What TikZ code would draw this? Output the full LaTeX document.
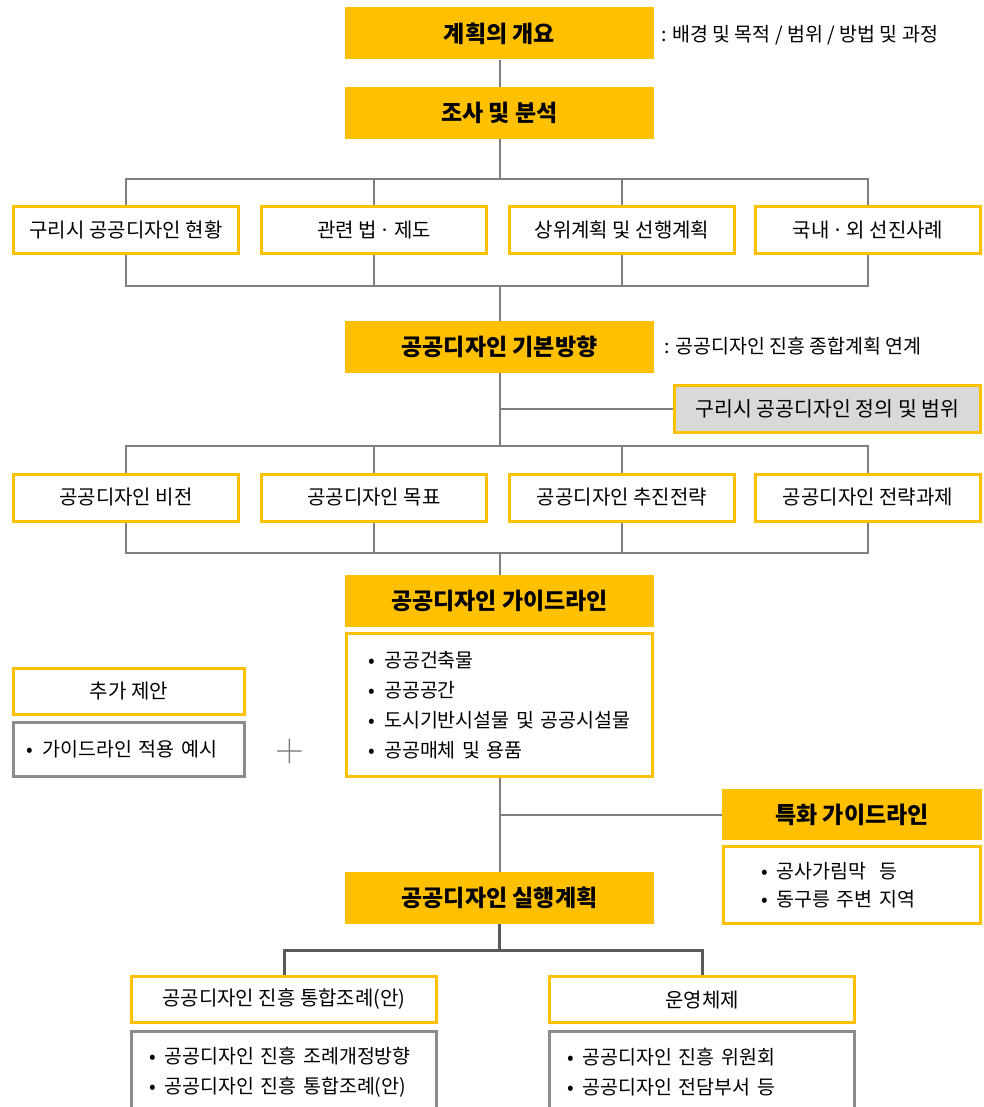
\documentclass[tikz,border=0pt]{standalone}
\usepackage{fontspec}
\setmainfont{Noto Sans CJK KR}
\newfontfamily\lmfont{Latin Modern Roman}
\definecolor{guriyellow}{HTML}{FFC000}
\definecolor{guriline}{HTML}{7F7F7F}
\definecolor{guridark}{HTML}{595959}
\definecolor{gurifill}{HTML}{D9D9D9}
\definecolor{gurigrey}{HTML}{8C8C8C}
\definecolor{gurifaint}{HTML}{7A7A7A}
\newcommand{\gbul}{•\hspace{9pt}}
\newcommand{\gdot}{\hspace{3pt}·\hspace{3pt}}
\begin{document}
\begin{tikzpicture}[x=1pt,y=-1pt,
    head/.style={fill=guriyellow, minimum width=309pt, minimum height=52pt, inner sep=0pt,
      font=\bfseries\fontsize{23}{27}\selectfont},
    topic/.style={draw=guriyellow, line width=3pt, fill=white, minimum width=225pt,
      minimum height=47pt, inner sep=0pt, font=\fontsize{20}{24}\selectfont},
    listbox/.style={draw=guriyellow, line width=3pt, fill=white, align=left,
      font=\fontsize{19.5}{30}\selectfont},
    greybox/.style={draw=gurigrey, line width=3pt, fill=white, align=left,
      font=\fontsize{19.5}{30}\selectfont},
    note/.style={anchor=west, inner sep=0pt, font=\fontsize{19.5}{23}\selectfont},
    conn/.style={draw=guriline, line width=2pt},
    thickconn/.style={draw=guridark, line width=3pt}]
  \useasboundingbox (0,0) rectangle (984,1107);
  \clip (0,0) rectangle (984,1107);
  % stages
  \node[head] (plan) at (499.5,33.5) {계획의 개요};
  \node[note] (plannote) at (661,35) {: 배경 및 목적 / 범위 / 방법 및 과정};
  \node[head] (survey) at (499.5,113) {조사 및 분석};
  \node[topic] (status) at (126,230) {구리시 공공디자인 현황};
  \node[topic] (law) at (374,230) {관련 법\gdot 제도};
  \node[topic] (upper) at (622,230) {상위계획 및 선행계획};
  \node[topic] (cases) at (868,230) {국내\gdot 외 선진사례};
  \node[head] (basic) at (499.5,347) {공공디자인 기본방향};
  \node[note] (basicnote) at (664,346) {: 공공디자인 진흥 종합계획 연계};
  \node[topic, fill=gurifill, minimum width=306pt, font=\fontsize{20.5}{24}\selectfont]
    (define) at (827.5,409) {구리시 공공디자인 정의 및 범위};
  \node[topic] (vision) at (126,497.5) {공공디자인 비전};
  \node[topic] (goal) at (374,497.5) {공공디자인 목표};
  \node[topic] (strategy) at (622,497.5) {공공디자인 추진전략};
  \node[topic] (tasks) at (868,497.5) {공공디자인 전략과제};
  \node[head] (guide) at (499.5,601) {공공디자인 가이드라인};
  \node[listbox, text width=262pt, inner xsep=22pt, minimum height=143pt]
    (guidelist) at (499.5,705)
    {\gbul 공공건축물\\\gbul 공공공간\\\gbul 도시기반시설물 및 공공시설물\\\gbul 공공매체 및 용품};
  \node[topic, minimum width=231pt, minimum height=46pt] (extra) at (129,691.5) {추가 제안};
  \node[greybox, text width=204pt, inner xsep=13.5pt, minimum height=54pt]
    (extralist) at (129,749.5) {\gbul 가이드라인 적용 예시};
  \node[text=gurifaint, font=\lmfont\fontsize{40}{40}\selectfont] (plus) at (290,752) {+};
  \node[head, minimum width=260pt, minimum height=51pt] (special) at (852,814.5) {특화 가이드라인};
  \node[listbox, text width=182pt, inner xsep=37.5pt, minimum height=77pt,
    font=\fontsize{19.5}{28}\selectfont]
    (speciallist) at (852,885) {\gbul 공사가림막~~등\\\gbul 동구릉 주변 지역};
  \node[head] (action) at (499.5,898) {공공디자인 실행계획};
  \node[topic, minimum width=305pt, minimum height=46pt] (ordinance) at (284,999.5)
    {공공디자인 진흥 통합조례(안)};
  \node[topic, minimum width=305pt, minimum height=46pt] (system) at (702,999.5) {운영체제};
  \node[greybox, text width=270pt, inner xsep=17.5pt, minimum height=81pt]
    (ordlist) at (284,1072) {\gbul 공공디자인 진흥 조례개정방향\\\gbul 공공디자인 진흥 통합조례(안)};
  \node[greybox, text width=270pt, inner xsep=17.5pt, minimum height=81pt]
    (syslist) at (702,1072) {\gbul 공공디자인 진흥 위원회\\\gbul 공공디자인 전담부서 등};
  % buses
  \coordinate (busA) at (499.5,179);
  \coordinate (busB) at (499.5,286);
  \coordinate (busC) at (499.5,446);
  \coordinate (busD) at (499.5,553);
  \coordinate (busE) at (499.5,950);
  % connectors
  \draw[conn] (plan) -- (survey);
  \draw[conn] (survey) -- (busA);
  \draw[conn] (status) |- (busA) -| (cases);
  \draw[conn] (law) -- (law |- busA);
  \draw[conn] (upper) -- (upper |- busA);
  \draw[conn] (status) |- (busB) -| (cases);
  \draw[conn] (law) -- (law |- busB);
  \draw[conn] (upper) -- (upper |- busB);
  \draw[conn] (busB) -- (basic);
  \draw[conn] (basic) -- (busC);
  \draw[conn] (define) -- (basic |- define);
  \draw[conn] (vision) |- (busC) -| (tasks);
  \draw[conn] (goal) -- (goal |- busC);
  \draw[conn] (strategy) -- (strategy |- busC);
  \draw[conn] (vision) |- (busD) -| (tasks);
  \draw[conn] (goal) -- (goal |- busD);
  \draw[conn] (strategy) -- (strategy |- busD);
  \draw[conn] (busD) -- (guide);
  \draw[conn] (guidelist) -- (action);
  \draw[conn] (special) -- (action |- special);
  \draw[thickconn] (action) -- (busE);
  \draw[thickconn] (ordinance) |- (busE) -| (system);
\end{tikzpicture}
\end{document}
